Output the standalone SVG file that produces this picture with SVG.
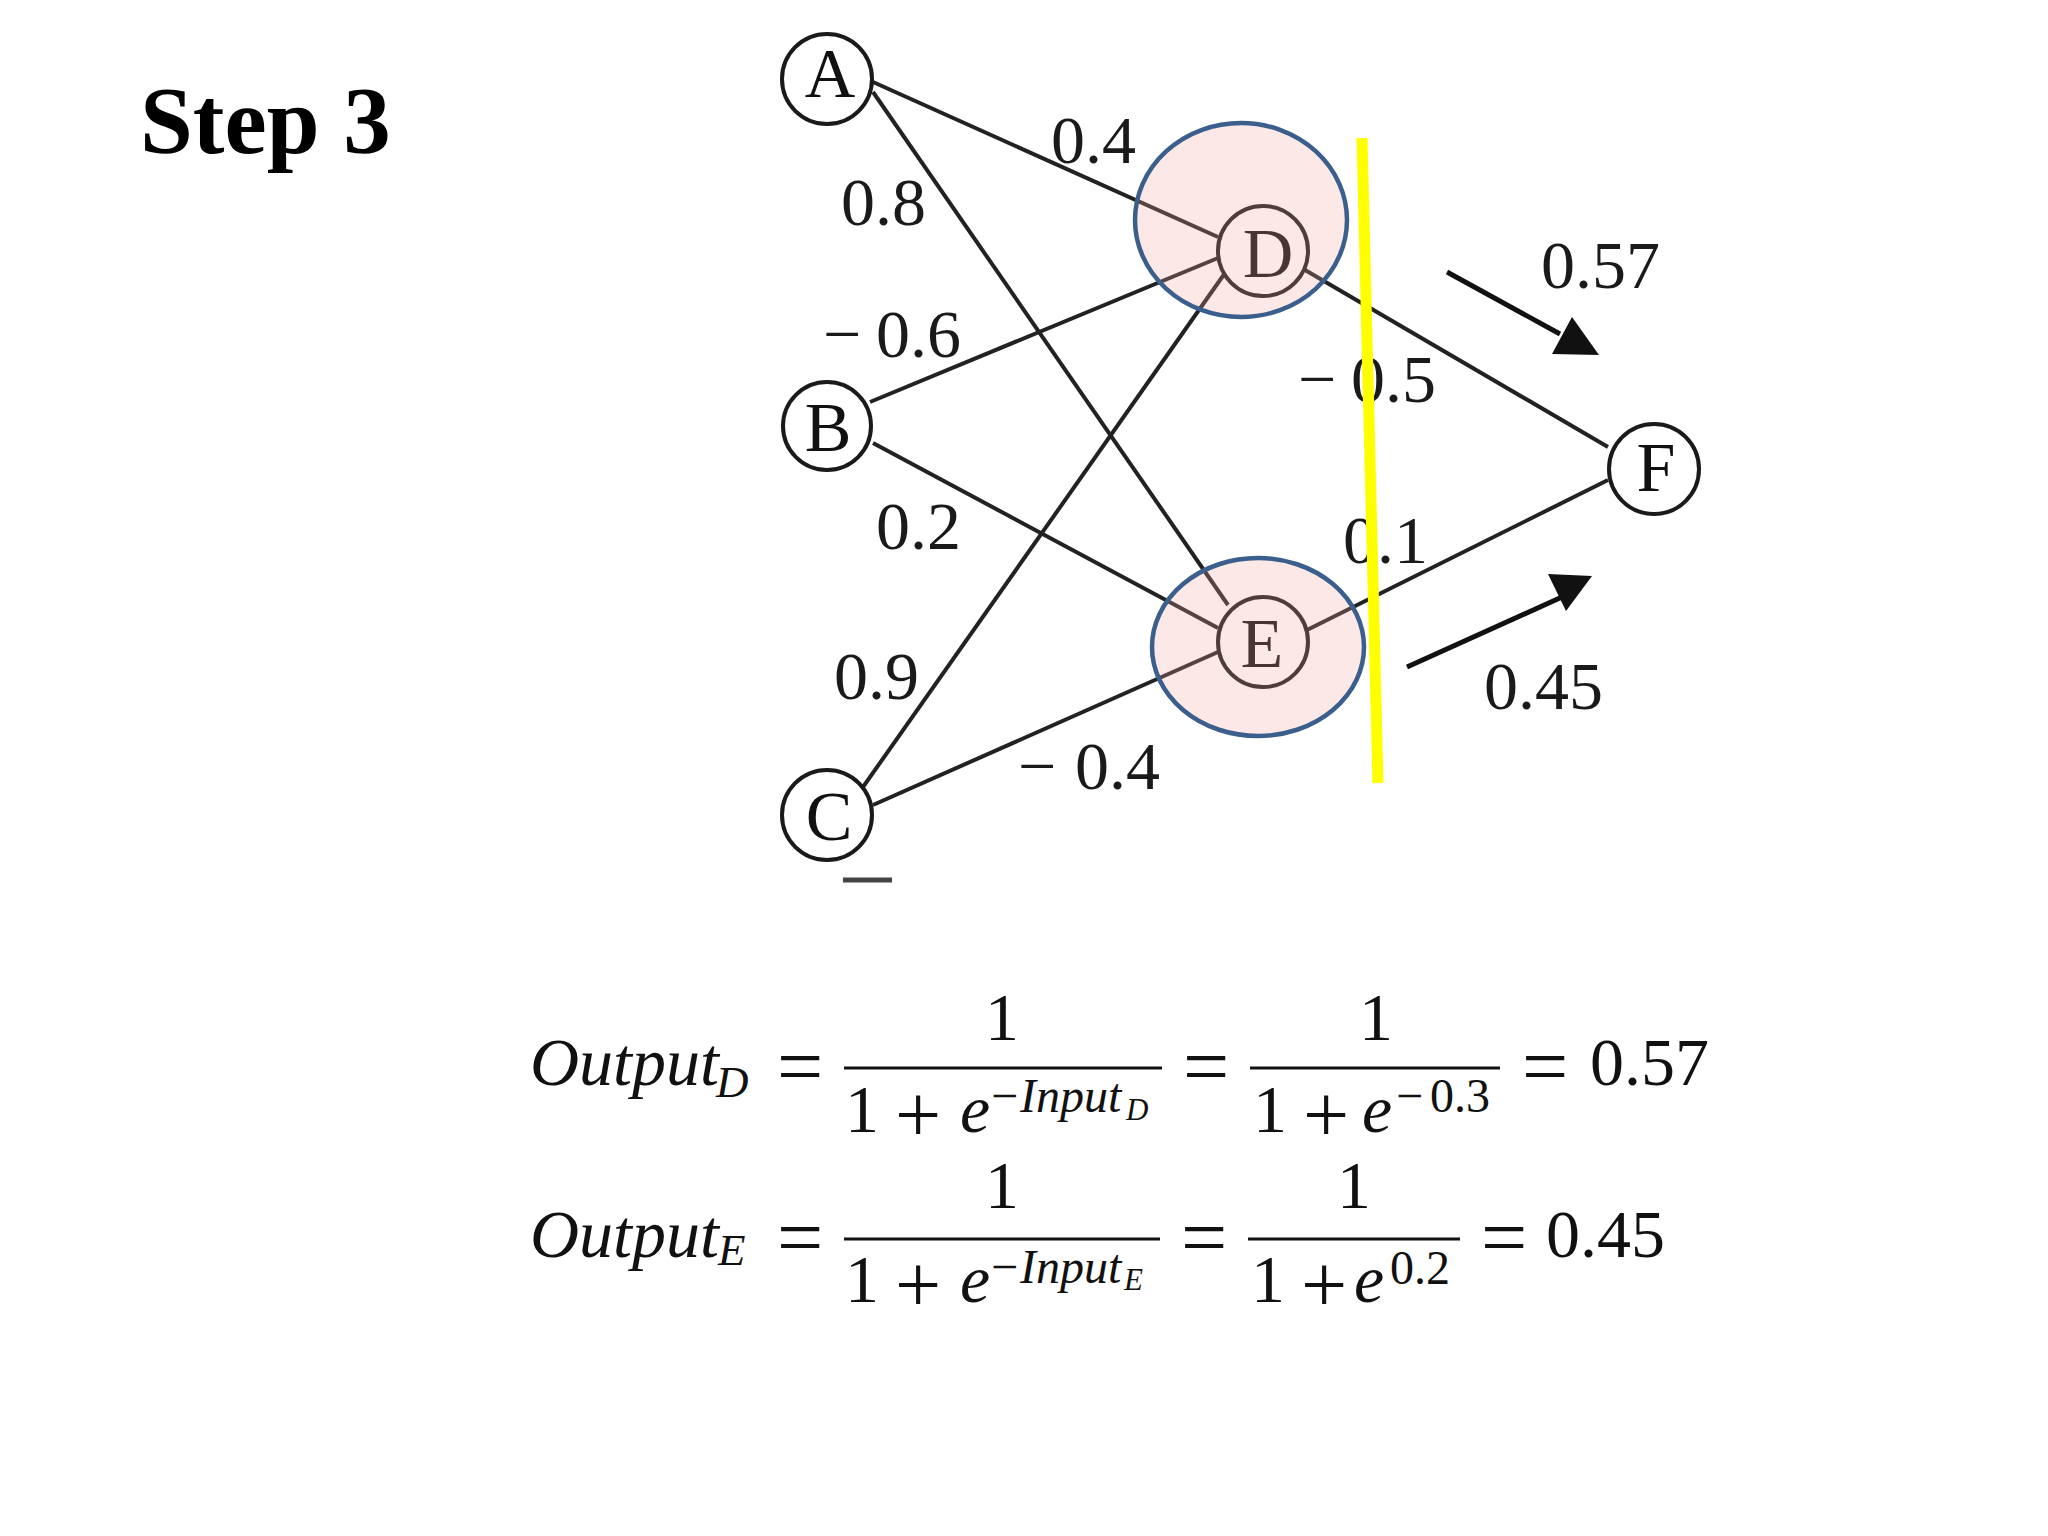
<svg xmlns="http://www.w3.org/2000/svg" width="2048" height="1536" viewBox="0 0 2048 1536">
<style>
.title{font-family:"Liberation Serif","Times New Roman",serif;font-size:95px;font-weight:bold;fill:#000}
.edge{stroke:#222;stroke-width:4;fill:none}
.node circle{fill:none;stroke:#1a1a1a;stroke-width:4}
.node text{font-family:"Liberation Serif","Times New Roman",serif;font-size:70px;fill:#111;text-anchor:middle}
.hl{fill:#F4A6A0;fill-opacity:0.25;stroke:#3B5F8C;stroke-width:4.5}
.lbl{font-family:"Liberation Serif","Times New Roman",serif;font-size:68px;fill:#1a1a1a}
.eq{font-family:"Liberation Serif","Times New Roman",serif;font-size:68px;fill:#111}
.it{font-style:italic}
.sup{font-size:48px}
.sub{font-size:45px}
.ss{font-size:31px}
.op{font-size:82px;text-anchor:middle}
.mid{text-anchor:middle}
.bar{stroke:#111;stroke-width:3}
.arrow{stroke:#111;stroke-width:5;fill:none}
.head{fill:#111}
</style>
<rect width="2048" height="1536" fill="#fff"/>
<text class="title" x="140" y="153">Step 3</text>

<g id="connectors">
<line class="edge" x1="873" y1="82" x2="1218" y2="237"/>
<line class="edge" x1="873" y1="92" x2="1228" y2="605"/>
<line class="edge" x1="870" y1="402" x2="1218" y2="258"/>
<line class="edge" x1="873" y1="443" x2="1218" y2="628"/>
<line class="edge" x1="863" y1="787" x2="1225" y2="273"/>
<line class="edge" x1="873" y1="805" x2="1218" y2="652"/>
<line class="edge" x1="1305" y1="270" x2="1608" y2="447"/>
<line class="edge" x1="1307" y1="630" x2="1608" y2="480"/>
</g>

<g id="node-A" class="node"><circle cx="827" cy="79" r="45"/><text x="830" y="97">A</text></g>
<g id="node-B" class="node"><circle cx="827" cy="426" r="44"/><text x="828" y="451">B</text></g>
<g id="node-C" class="node"><circle cx="827" cy="815" r="45"/><text x="829" y="840">C</text></g>
<g id="node-D" class="node"><circle cx="1263" cy="251" r="45"/><text x="1268" y="277">D</text></g>
<g id="node-E" class="node"><circle cx="1263" cy="642" r="45"/><text x="1262" y="667">E</text></g>
<g id="node-F" class="node"><circle cx="1654" cy="469" r="45"/><text x="1656" y="491">F</text></g>

<g id="highlight-D"><ellipse class="hl" cx="1241" cy="220" rx="106" ry="97"/></g>
<g id="highlight-E"><ellipse class="hl" cx="1258" cy="647" rx="106" ry="89"/></g>

<line x1="843" y1="880" x2="892" y2="880" stroke="#444" stroke-width="5"/>

<g id="edge-labels">
<text class="lbl" x="1051" y="163">0.4</text>
<text class="lbl" x="841" y="225">0.8</text>
<text class="lbl" x="823" y="357">−<tspan x="876">0.6</tspan></text>
<text class="lbl" x="876" y="549">0.2</text>
<text class="lbl" x="834" y="699">0.9</text>
<text class="lbl" x="1018" y="789">−<tspan x="1075">0.4</tspan></text>
<text class="lbl" x="1298" y="402">−<tspan x="1351">0.5</tspan></text>
<text class="lbl" x="1343" y="563">0.1</text>
<text class="lbl" x="1541" y="288">0.57</text>
<text class="lbl" x="1484" y="709">0.45</text>
</g>

<line x1="1362" y1="138" x2="1378" y2="783" stroke="#FFFF00" stroke-width="11"/>

<g id="arrow-D">
<line class="arrow" x1="1447" y1="272" x2="1560" y2="334"/>
<polygon class="head" points="1552,354 1599,355 1572,317"/>
</g>
<g id="arrow-E">
<line class="arrow" x1="1407" y1="667" x2="1562" y2="597"/>
<polygon class="head" points="1548,574 1592,576 1566,611"/>
</g>

<g id="equation-D">
<text class="eq it" x="530" y="1085">Output</text>
<text class="eq it sub" x="716" y="1097">D</text>
<text class="eq op" x="800" y="1094">=</text>
<line class="bar" x1="844" y1="1068" x2="1162" y2="1068"/>
<text class="eq mid" x="1002" y="1040">1</text>
<text class="eq" x="845" y="1132">1</text>
<text class="eq op" x="918" y="1142">+</text>
<text class="eq it" x="960" y="1132">e</text>
<text class="eq sup" x="991" y="1112">−<tspan class="it" x="1020">Input</tspan></text>
<text class="eq it ss" x="1126" y="1120">D</text>
<text class="eq op" x="1206" y="1094">=</text>
<line class="bar" x1="1250" y1="1068" x2="1500" y2="1068"/>
<text class="eq mid" x="1376" y="1040">1</text>
<text class="eq" x="1253" y="1132">1</text>
<text class="eq op" x="1326" y="1142">+</text>
<text class="eq it" x="1362" y="1132">e</text>
<text class="eq sup" x="1396" y="1112">−<tspan x="1430">0.3</tspan></text>
<text class="eq op" x="1545" y="1094">=</text>
<text class="eq" x="1590" y="1085">0.57</text>
</g>

<g id="equation-E">
<text class="eq it" x="530" y="1257">Output</text>
<text class="eq it sub" x="718" y="1265">E</text>
<text class="eq op" x="800" y="1265">=</text>
<line class="bar" x1="844" y1="1239" x2="1160" y2="1239"/>
<text class="eq mid" x="1002" y="1208">1</text>
<text class="eq" x="845" y="1302">1</text>
<text class="eq op" x="918" y="1312">+</text>
<text class="eq it" x="960" y="1302">e</text>
<text class="eq sup" x="991" y="1283">−<tspan class="it" x="1020">Input</tspan></text>
<text class="eq it ss" x="1124" y="1290">E</text>
<text class="eq op" x="1204" y="1265">=</text>
<line class="bar" x1="1248" y1="1239" x2="1460" y2="1239"/>
<text class="eq mid" x="1354" y="1208">1</text>
<text class="eq" x="1251" y="1302">1</text>
<text class="eq op" x="1324" y="1312">+</text>
<text class="eq it" x="1354" y="1302">e</text>
<text class="eq sup" x="1390" y="1284">0.2</text>
<text class="eq op" x="1504" y="1265">=</text>
<text class="eq" x="1546" y="1257">0.45</text>
</g>
</svg>
